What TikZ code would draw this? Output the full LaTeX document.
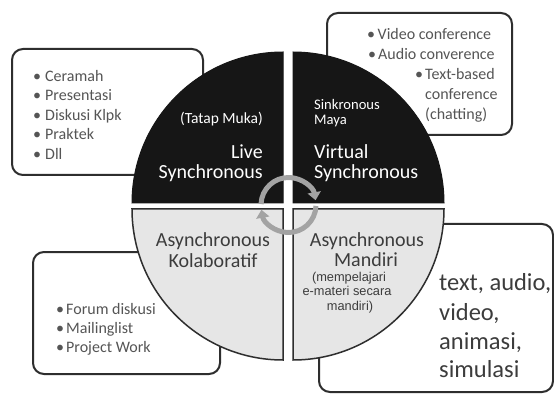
\documentclass[tikz,border=0pt]{standalone}
\usepackage{fontspec}
\setmainfont{Carlito}
\newfontfamily\arialf{Liberation Sans}
\usetikzlibrary{arrows.meta}
\definecolor{boxc}{HTML}{2E2E2E}
\definecolor{itemc}{HTML}{555555}
\definecolor{darkq}{HTML}{161616}
\definecolor{lightq}{HTML}{E6E6E6}
\definecolor{qtext}{HTML}{3C3C3C}
\definecolor{ringc}{HTML}{A3A3A3}
\newcommand\bl[2]{\makebox[#1][l]{\textbullet}#2}
\tikzset{
  box/.style={draw=boxc, line width=2pt, rounded corners=11pt, fill=white},
  dq/.style={fill=darkq, draw=darkq, line width=1pt},
  lq/.style={fill=lightq, draw=boxc, line width=1.5pt},
  item/.style={anchor=base west, inner sep=0pt, font=\fontsize{16}{19}\selectfont, text=itemc},
  wbig/.style={inner sep=0pt, font=\fontsize{20}{22}\selectfont, text=white},
  wsmall/.style={inner sep=0pt, font=\fontsize{15.5}{17}\selectfont, text=white},
  wtiny/.style={inner sep=0pt, font=\fontsize{14.6}{16}\selectfont, text=white},
  gbig/.style={anchor=base, inner sep=0pt, font=\fontsize{20}{22}\selectfont, text=qtext},
  gsmall/.style={anchor=base, inner sep=0pt, font=\arialf\fontsize{12.8}{15}\selectfont, text=qtext},
  huge/.style={anchor=base west, inner sep=0pt, font=\fontsize{24.5}{29}\selectfont, text=qtext},
  ring/.style={draw=ringc, line width=5pt, -{Triangle[width=13pt,length=8pt]}},
}
\begin{document}
\begin{tikzpicture}[x=1pt,y=1pt]
\useasboundingbox[fill=white] (0,0) rectangle (554,394);
% boxes
\draw[box] (12,219) rectangle (203,345);
\draw[box] (327,259) rectangle (512,381);
\draw[box] (33,20) rectangle (220,142);
\draw[box] (319,2) rectangle (553,170);
% quadrants
\draw[dq] (283,191) -- (132,191) arc[start angle=180, end angle=90, radius=151] -- cycle;
\draw[dq] (293,191) -- (293,342) arc[start angle=90, end angle=0, radius=151] -- cycle;
\draw[lq] (283,185) -- (132,185) arc[start angle=180, end angle=270, radius=151] -- cycle;
\draw[lq] (293,185) -- (444,185) arc[start angle=0, end angle=-90, radius=151] -- cycle;
% ring
\coordinate (c) at (288.5,189);
\draw[ring] ([shift={(178:27.5)}]c) arc[start angle=178, end angle=10, radius=27.5];
\draw[ring] ([shift={(-2:27.5)}]c) arc[start angle=-2, end angle=-170, radius=27.5];
% box 1 items
\node[item] (a1) at (33,312) {\bl{12pt}{Ceramah}};
\node[item] (a2) at (33,293) {\bl{12pt}{Presentasi}};
\node[item] (a3) at (33,273) {\bl{12pt}{Diskusi Klpk}};
\node[item] (a4) at (33,254) {\bl{12pt}{Praktek}};
\node[item] (a5) at (33,234) {\bl{12pt}{Dll}};
% box 2 items
\node[item] (b1) at (367,354) {\bl{10.5pt}{Video conference}};
\node[item] (b2) at (368,334) {\bl{10pt}{Audio converence}};
\node[item] (b3) at (415,314) {\bl{10pt}{Text-based}};
\node[item] (b4) at (425,294) {conference};
\node[item] (b5) at (425,274) {(chatting)};
% box 3 items
\node[item] (d1) at (56,80) {\bl{10pt}{Forum diskusi}};
\node[item] (d2) at (56,61) {\bl{10pt}{Mailinglist}};
\node[item] (d3) at (56,42) {\bl{10pt}{Project Work}};
% top-left quadrant
\node[wsmall, anchor=base east] (tl1) at (263,270) {(Tatap Muka)};
\node[wbig, anchor=base east] (tl2) at (263,235) {Live};
\node[wbig, anchor=base east] (tl3) at (263,215) {Synchronous};
% top-right quadrant
\node[wtiny, anchor=base west] (tr1) at (314,284) {Sinkronous};
\node[wtiny, anchor=base west] (tr2) at (314,269.5) {Maya};
\node[wbig, anchor=base west] (tr3) at (314,235) {Virtual};
\node[wbig, anchor=base west] (tr4) at (314,215) {Synchronous};
% bottom-left quadrant
\node[gbig] (bl1) at (213,147) {Asynchronous};
\node[gbig] (bl2) at (213,127) {Kolaboratif};
% bottom-right quadrant
\node[gbig] (br1) at (367,147) {Asynchronous};
\node[gbig] (br2) at (366,128) {Mandiri};
\node[gsmall] (br3) at (349,113) {(mempelajari};
\node[gsmall] (br4) at (347,98.5) {e-materi secara};
\node[gsmall] (br5) at (350,84) {mandiri)};
% box 4
\node[huge] (e1) at (439,104) {text, audio,};
\node[huge] (e2) at (439,74) {video,};
\node[huge] (e3) at (439,45) {animasi,};
\node[huge] (e4) at (439,17) {simulasi};
\end{tikzpicture}
\end{document}
